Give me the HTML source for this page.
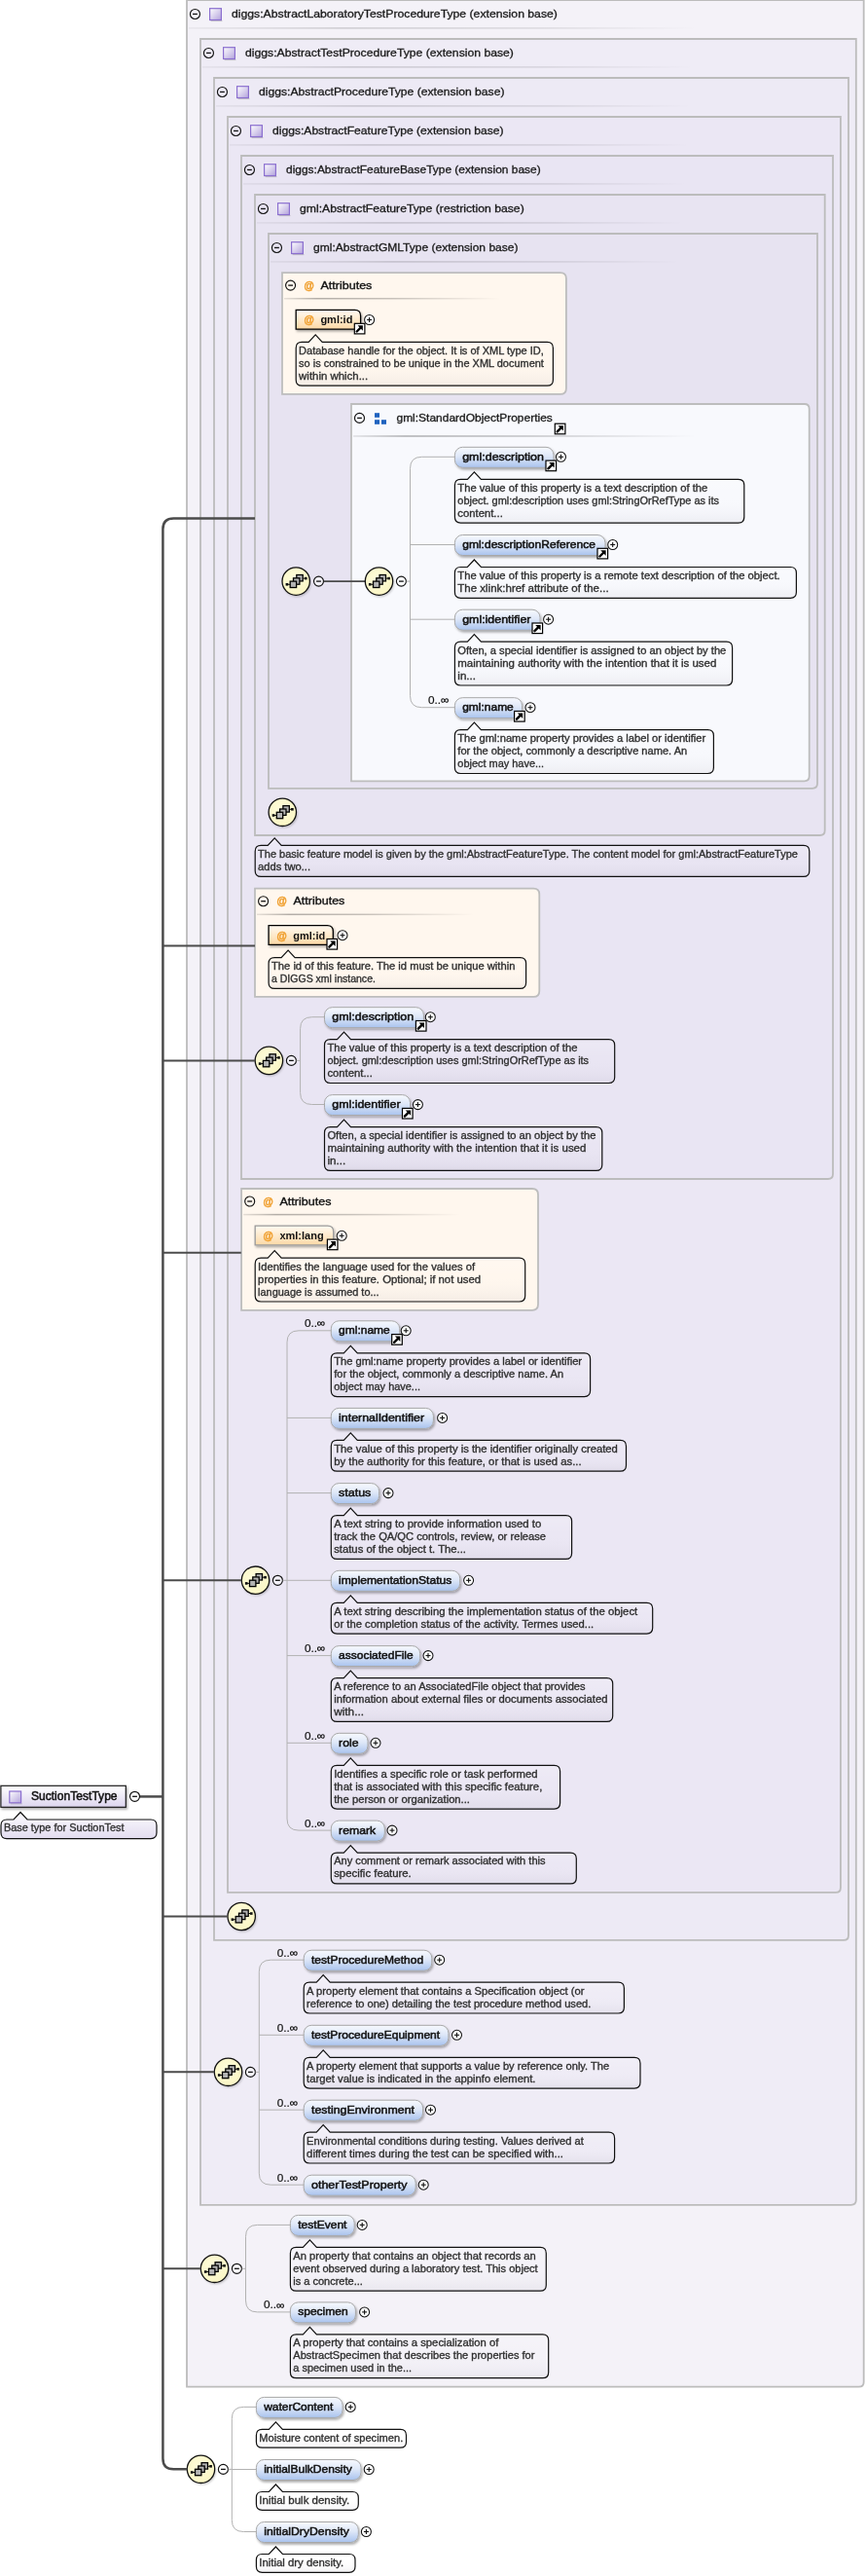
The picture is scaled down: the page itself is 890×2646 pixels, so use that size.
<!DOCTYPE html><html><head><meta charset="utf-8"><title>SuctionTestType</title><style>html,body{margin:0;padding:0;background:#fff;}svg{display:block;}text{font-family:"Liberation Sans", sans-serif;}svg{will-change:transform;}</style></head><body>
<svg width="890" height="2646" viewBox="0 0 890 2646" font-family="&quot;Liberation Sans&quot;, sans-serif">
<defs>
<linearGradient id="gType" x1="0" y1="0" x2="1" y2="0">
 <stop offset="0" stop-color="#e3ddf3" stop-opacity="0.40"/>
 <stop offset="1" stop-color="#e6e1f2" stop-opacity="0.40"/>
</linearGradient>
<linearGradient id="gPurple" x1="0" y1="0" x2="1" y2="1">
 <stop offset="0" stop-color="#ffffff"/>
 <stop offset="1" stop-color="#b3a3dc"/>
</linearGradient>
<linearGradient id="gSep" x1="0" y1="0" x2="1" y2="0">
 <stop offset="0" stop-color="#000" stop-opacity="0.05"/>
 <stop offset="0.3" stop-color="#000" stop-opacity="0.16"/>
 <stop offset="0.7" stop-color="#000" stop-opacity="0.10"/>
 <stop offset="1" stop-color="#000" stop-opacity="0"/>
</linearGradient>
<linearGradient id="gSep2" x1="0" y1="0" x2="1" y2="0">
 <stop offset="0" stop-color="#000" stop-opacity="0.10"/>
 <stop offset="0.15" stop-color="#000" stop-opacity="0.30"/>
 <stop offset="0.5" stop-color="#000" stop-opacity="0.22"/>
 <stop offset="1" stop-color="#000" stop-opacity="0"/>
</linearGradient>
<linearGradient id="gElem" x1="0" y1="0" x2="0" y2="1">
 <stop offset="0" stop-color="#f7f9fe"/>
 <stop offset="0.45" stop-color="#dfe8f8"/>
 <stop offset="1" stop-color="#a9c3ee"/>
</linearGradient>
<linearGradient id="gAttr" x1="0" y1="0" x2="0" y2="1">
 <stop offset="0" stop-color="#fffaf2"/>
 <stop offset="1" stop-color="#fcd9a6"/>
</linearGradient>
<linearGradient id="gNote" x1="0" y1="0" x2="0" y2="1">
 <stop offset="0" stop-color="#ffffff" stop-opacity="0.25"/>
 <stop offset="0.5" stop-color="#ffffff" stop-opacity="0.0"/>
 <stop offset="1" stop-color="#1a1030" stop-opacity="0.05"/>
</linearGradient>
<linearGradient id="gNoteType" x1="0" y1="0" x2="0" y2="1">
 <stop offset="0" stop-color="#fdfcff"/>
 <stop offset="1" stop-color="#e2dcef"/>
</linearGradient>
<linearGradient id="gTypeEl" x1="0" y1="0" x2="0" y2="1">
 <stop offset="0" stop-color="#ffffff"/>
 <stop offset="1" stop-color="#dcd5ee"/>
</linearGradient>
<radialGradient id="gSeq" cx="0.45" cy="0.4" r="0.65">
 <stop offset="0" stop-color="#fefcdc"/>
 <stop offset="1" stop-color="#faf5c2"/>
</radialGradient>
<filter id="shadow" x="-10%" y="-20%" width="125%" height="160%">
 <feDropShadow dx="1.2" dy="1.8" stdDeviation="0.9" flood-color="#000" flood-opacity="0.32"/>
</filter>
<filter id="blur" x="-30%" y="-30%" width="160%" height="160%">
 <feGaussianBlur stdDeviation="1.2"/>
</filter>
</defs>
<path d="M192.0,0.0 H887.7 V2446.7 Q887.7,2451.7 882.7,2451.7 H192.0 Z" fill="#f4f2f8" stroke="#bcbcbc" stroke-width="1.8"/>
<circle cx="200.45" cy="14.45" r="5.0" fill="none" stroke="#111" stroke-width="1.15"/>
<line x1="198.04999999999998" y1="14.45" x2="202.85" y2="14.45" stroke="#111" stroke-width="1.3"/>
<rect x="216.6" y="20.900000000000002" width="11.8" height="1.2" fill="#000" fill-opacity="0.18"/>
<rect x="215.6" y="8.7" width="11.8" height="11.8" fill="url(#gPurple)" stroke="#8b6fcf" stroke-width="1.2"/>
<text x="238.0" y="17.8" font-size="11" stroke="#1a1a1a" stroke-width="0.3" fill="#1a1a1a" textLength="334.90000000000003" lengthAdjust="spacingAndGlyphs">diggs:AbstractLaboratoryTestProcedureType (extension base)</text>
<rect x="194.0" y="28.15" width="523.0" height="1.5" fill="url(#gSep)"/>
<path d="M206.0,40.0 H879.8 V2259.8 Q879.8,2264.8 874.8,2264.8 H206.0 Z" fill="#efecf6" stroke="#bcbcbc" stroke-width="1.8"/>
<circle cx="214.45" cy="54.45" r="5.0" fill="none" stroke="#111" stroke-width="1.15"/>
<line x1="212.04999999999998" y1="54.45" x2="216.85" y2="54.45" stroke="#111" stroke-width="1.3"/>
<rect x="230.6" y="60.9" width="11.8" height="1.2" fill="#000" fill-opacity="0.18"/>
<rect x="229.6" y="48.7" width="11.8" height="11.8" fill="url(#gPurple)" stroke="#8b6fcf" stroke-width="1.2"/>
<text x="252.0" y="57.8" font-size="11" stroke="#1a1a1a" stroke-width="0.3" fill="#1a1a1a" textLength="275.90000000000003" lengthAdjust="spacingAndGlyphs">diggs:AbstractTestProcedureType (extension base)</text>
<rect x="208.0" y="68.15" width="505.5" height="1.5" fill="url(#gSep)"/>
<path d="M220.0,80.0 H872.0 V1987.9 Q872.0,1992.9 867.0,1992.9 H220.0 Z" fill="#edeaf5" stroke="#bcbcbc" stroke-width="1.8"/>
<circle cx="228.45" cy="94.45" r="5.0" fill="none" stroke="#111" stroke-width="1.15"/>
<line x1="226.04999999999998" y1="94.45" x2="230.85" y2="94.45" stroke="#111" stroke-width="1.3"/>
<rect x="244.6" y="100.89999999999999" width="11.8" height="1.2" fill="#000" fill-opacity="0.18"/>
<rect x="243.6" y="88.69999999999999" width="11.8" height="11.8" fill="url(#gPurple)" stroke="#8b6fcf" stroke-width="1.2"/>
<text x="266.0" y="97.8" font-size="11" stroke="#1a1a1a" stroke-width="0.3" fill="#1a1a1a" textLength="252.5" lengthAdjust="spacingAndGlyphs">diggs:AbstractProcedureType (extension base)</text>
<rect x="222.0" y="108.15" width="489.0" height="1.5" fill="url(#gSep)"/>
<path d="M234.0,120.0 H863.9 V1938.9 Q863.9,1943.9 858.9,1943.9 H234.0 Z" fill="#ebe7f4" stroke="#bcbcbc" stroke-width="1.8"/>
<circle cx="242.45" cy="134.45" r="5.0" fill="none" stroke="#111" stroke-width="1.15"/>
<line x1="240.04999999999998" y1="134.45" x2="244.85" y2="134.45" stroke="#111" stroke-width="1.3"/>
<rect x="258.6" y="140.9" width="11.8" height="1.2" fill="#000" fill-opacity="0.18"/>
<rect x="257.6" y="128.7" width="11.8" height="11.8" fill="url(#gPurple)" stroke="#8b6fcf" stroke-width="1.2"/>
<text x="280.0" y="137.8" font-size="11" stroke="#1a1a1a" stroke-width="0.3" fill="#1a1a1a" textLength="237.60000000000002" lengthAdjust="spacingAndGlyphs">diggs:AbstractFeatureType (extension base)</text>
<rect x="236.0" y="148.15" width="473.5" height="1.5" fill="url(#gSep)"/>
<path d="M248.0,160.0 H856.0 V1206.0 Q856.0,1211.0 851.0,1211.0 H248.0 Z" fill="#e9e5f3" stroke="#bcbcbc" stroke-width="1.8"/>
<circle cx="256.45" cy="174.45" r="5.0" fill="none" stroke="#111" stroke-width="1.15"/>
<line x1="254.04999999999998" y1="174.45" x2="258.84999999999997" y2="174.45" stroke="#111" stroke-width="1.3"/>
<rect x="272.6" y="180.9" width="11.8" height="1.2" fill="#000" fill-opacity="0.18"/>
<rect x="271.6" y="168.7" width="11.8" height="11.8" fill="url(#gPurple)" stroke="#8b6fcf" stroke-width="1.2"/>
<text x="294.0" y="177.8" font-size="11" stroke="#1a1a1a" stroke-width="0.3" fill="#1a1a1a" textLength="261.7" lengthAdjust="spacingAndGlyphs">diggs:AbstractFeatureBaseType (extension base)</text>
<rect x="250.0" y="188.15" width="456.0" height="1.5" fill="url(#gSep)"/>
<path d="M262.0,200.0 H847.7 V853.0 Q847.7,858.0 842.7,858.0 H262.0 Z" fill="#e8e4f2" stroke="#bcbcbc" stroke-width="1.8"/>
<circle cx="270.45" cy="214.45" r="5.0" fill="none" stroke="#111" stroke-width="1.15"/>
<line x1="268.05" y1="214.45" x2="272.84999999999997" y2="214.45" stroke="#111" stroke-width="1.3"/>
<rect x="286.6" y="220.9" width="11.8" height="1.2" fill="#000" fill-opacity="0.18"/>
<rect x="285.6" y="208.7" width="11.8" height="11.8" fill="url(#gPurple)" stroke="#8b6fcf" stroke-width="1.2"/>
<text x="308.0" y="217.8" font-size="11" stroke="#1a1a1a" stroke-width="0.3" fill="#1a1a1a" textLength="230.70000000000002" lengthAdjust="spacingAndGlyphs">gml:AbstractFeatureType (restriction base)</text>
<rect x="264.0" y="228.15" width="438.5" height="1.5" fill="url(#gSep)"/>
<path d="M276.0,240.0 H840.0 V804.8 Q840.0,809.8 835.0,809.8 H276.0 Z" fill="#e7e3f1" stroke="#bcbcbc" stroke-width="1.8"/>
<circle cx="284.45" cy="254.45" r="5.0" fill="none" stroke="#111" stroke-width="1.15"/>
<line x1="282.05" y1="254.45" x2="286.84999999999997" y2="254.45" stroke="#111" stroke-width="1.3"/>
<rect x="300.6" y="260.90000000000003" width="11.8" height="1.2" fill="#000" fill-opacity="0.18"/>
<rect x="299.6" y="248.7" width="11.8" height="11.8" fill="url(#gPurple)" stroke="#8b6fcf" stroke-width="1.2"/>
<text x="322.0" y="257.8" font-size="11" stroke="#1a1a1a" stroke-width="0.3" fill="#1a1a1a" textLength="210.5" lengthAdjust="spacingAndGlyphs">gml:AbstractGMLType (extension base)</text>
<rect x="278.0" y="268.15" width="421.0" height="1.5" fill="url(#gSep)"/>
<path d="M290.0,280.1 H575.9 Q581.9,280.1 581.9,286.1 V398.9 Q581.9,404.9 575.9,404.9 H290.0 Z" fill="#fff7ee" stroke="#bdbdbd" stroke-width="1.8"/>
<circle cx="298.6" cy="293.1" r="5.0" fill="none" stroke="#111" stroke-width="1.15"/>
<line x1="296.20000000000005" y1="293.1" x2="301.0" y2="293.1" stroke="#111" stroke-width="1.3"/>
<text x="312.4" y="296.6" font-size="10.5" stroke="#f0a030" stroke-width="0.5" font-weight="bold" fill="#f0a030">@</text>
<text x="329.4" y="296.6" font-size="11.5" stroke="#111" stroke-width="0.35" fill="#111" textLength="53" lengthAdjust="spacingAndGlyphs">Attributes</text>
<rect x="292.0" y="305.95000000000005" width="223.0" height="1.5" fill="url(#gSep2)"/>
<path d="M304.2,318.4 H364.6 Q370.6,318.4 370.6,324.4 V338.09999999999997 H304.2 Z" fill="url(#gAttr)" stroke="#000" stroke-width="1.3" filter="url(#shadow)"/>
<text x="312.5" y="332.4" font-size="10.5" stroke="#f0a030" stroke-width="0.5" font-weight="bold" fill="#f0a030">@</text>
<text x="329.4" y="332.4" font-size="11" font-weight="bold" fill="#111">gml:id</text>
<rect x="364.3" y="332.29999999999995" width="10.6" height="10.6" fill="#fff" stroke="#000" stroke-width="1.2"/>
<path d="M366.7,340.5 L370.70000000000005,336.49999999999994" stroke="#000" stroke-width="2.4" stroke-linecap="round"/>
<path d="M372.90000000000003,334.29999999999995 L372.90000000000003,339.69999999999993 L367.50000000000006,334.29999999999995 Z" fill="#000"/>
<circle cx="379.6" cy="328.5" r="5.0" fill="#fff" stroke="#111" stroke-width="1.05"/>
<line x1="377.1" y1="328.5" x2="382.1" y2="328.5" stroke="#111" stroke-width="1.1"/>
<line x1="379.6" y1="326.0" x2="379.6" y2="331.0" stroke="#111" stroke-width="1.1"/>
<path d="M310.2,351.4 H317.2 L324.2,343.9 L331.2,351.4 H562.4 Q568.4,351.4 568.4,357.4 V390.2 Q568.4,396.2 562.4,396.2 H310.2 Q304.2,396.2 304.2,390.2 V357.4 Q304.2,351.4 310.2,351.4 Z" fill="url(#gNote)" stroke="#111" stroke-width="1.2"/>
<text x="307.09999999999997" y="363.7" font-size="10" stroke="#303030" stroke-width="0.32" fill="#303030" textLength="251.8" lengthAdjust="spacingAndGlyphs">Database handle for the object. It is of XML type ID,</text>
<text x="307.09999999999997" y="376.7" font-size="10" stroke="#303030" stroke-width="0.32" fill="#303030" textLength="251.8" lengthAdjust="spacingAndGlyphs">so is constrained to be unique in the XML document</text>
<text x="307.09999999999997" y="389.7" font-size="10" stroke="#303030" stroke-width="0.32" fill="#303030" textLength="71.1" lengthAdjust="spacingAndGlyphs">within which...</text>
<path d="M361,415 H826.7 Q831.7,415 831.7,420 V797.3 Q831.7,802.3 826.7,802.3 H361 Z" fill="#f8f9fd" stroke="#bdbdbd" stroke-width="1.8"/>
<circle cx="369.5" cy="429.4" r="5.0" fill="none" stroke="#111" stroke-width="1.15"/>
<line x1="367.1" y1="429.4" x2="371.9" y2="429.4" stroke="#111" stroke-width="1.3"/>
<rect x="385" y="424.2" width="5" height="4.6" fill="#1f62bf"/>
<rect x="385" y="431.2" width="5" height="4.6" fill="#1f62bf"/>
<rect x="392" y="431.2" width="5" height="4.6" fill="#1f62bf"/>
<text x="407.5" y="433.2" font-size="11" stroke="#1a1a1a" stroke-width="0.3" fill="#1a1a1a" textLength="160.3" lengthAdjust="spacingAndGlyphs">gml:StandardObjectProperties</text>
<rect x="570.3" y="435.2" width="10.6" height="10.6" fill="#fff" stroke="#000" stroke-width="1.2"/>
<path d="M572.6999999999999,443.40000000000003 L576.6999999999999,439.4" stroke="#000" stroke-width="2.4" stroke-linecap="round"/>
<path d="M578.9,437.2 L578.9,442.59999999999997 L573.5,437.2 Z" fill="#000"/>
<rect x="363" y="447.25" width="352" height="1.5" fill="url(#gSep2)"/>
<circle cx="305.4" cy="598.7" r="14.2" fill="#000" fill-opacity="0.22" filter="url(#blur)"/>
<circle cx="304.2" cy="597.1" r="14.2" fill="url(#gSeq)" stroke="#111" stroke-width="1.3"/>
<line x1="294.7" y1="600.3000000000001" x2="299.2" y2="600.3000000000001" stroke="#111" stroke-width="1"/>
<rect x="293.59999999999997" y="599.0" width="2.6" height="2.6" fill="#111"/>
<line x1="310.2" y1="594.1" x2="314.2" y2="594.1" stroke="#111" stroke-width="1"/>
<rect x="313.0" y="592.8000000000001" width="2.6" height="2.6" fill="#111"/>
<rect x="304.8" y="590.5" width="6.4" height="6.4" fill="#b3b3b3" stroke="#000" stroke-width="1.3"/>
<rect x="301.5" y="593.8000000000001" width="6.4" height="6.4" fill="#b3b3b3" stroke="#000" stroke-width="1.3"/>
<rect x="298.2" y="597.1" width="6.4" height="6.4" fill="#b3b3b3" stroke="#000" stroke-width="1.3"/>
<circle cx="327.5" cy="597.1" r="5.0" fill="#fff" fill-opacity="0.45" stroke="#111" stroke-width="1.15"/>
<line x1="325.1" y1="597.1" x2="329.9" y2="597.1" stroke="#111" stroke-width="1.3"/>
<path d="M332.7,597.1 H375.5" fill="none" stroke="#4b4b4b" stroke-width="1.6"/>
<circle cx="390.7" cy="598.7" r="14.2" fill="#000" fill-opacity="0.22" filter="url(#blur)"/>
<circle cx="389.5" cy="597.1" r="14.2" fill="url(#gSeq)" stroke="#111" stroke-width="1.3"/>
<line x1="380.0" y1="600.3000000000001" x2="384.5" y2="600.3000000000001" stroke="#111" stroke-width="1"/>
<rect x="378.9" y="599.0" width="2.6" height="2.6" fill="#111"/>
<line x1="395.5" y1="594.1" x2="399.5" y2="594.1" stroke="#111" stroke-width="1"/>
<rect x="398.3" y="592.8000000000001" width="2.6" height="2.6" fill="#111"/>
<rect x="390.1" y="590.5" width="6.4" height="6.4" fill="#b3b3b3" stroke="#000" stroke-width="1.3"/>
<rect x="386.8" y="593.8000000000001" width="6.4" height="6.4" fill="#b3b3b3" stroke="#000" stroke-width="1.3"/>
<rect x="383.5" y="597.1" width="6.4" height="6.4" fill="#b3b3b3" stroke="#000" stroke-width="1.3"/>
<circle cx="412.4" cy="597.1" r="5.0" fill="#fff" fill-opacity="0.45" stroke="#111" stroke-width="1.15"/>
<line x1="410.0" y1="597.1" x2="414.79999999999995" y2="597.1" stroke="#111" stroke-width="1.3"/>
<path d="M417.6,597.1 H421.5" fill="none" stroke="#b2b2b2" stroke-width="1"/>
<path d="M467.4,469.3 H433.5 Q421.5,469.3 421.5,481.3 V714.7 Q421.5,726.7 433.5,726.7 H467.4" fill="none" stroke="#b2b2b2" stroke-width="1"/>
<path d="M421.5,559.5 H467.4" fill="none" stroke="#b2b2b2" stroke-width="1"/>
<path d="M421.5,636.2 H467.4" fill="none" stroke="#b2b2b2" stroke-width="1"/>
<rect x="467.4" y="459.3" width="101.60000000000002" height="21" rx="8" ry="8" fill="url(#gElem)" stroke="#a8a8a8" stroke-width="1" filter="url(#shadow)"/>
<text x="475.2" y="472.7" font-size="11.5" stroke="#111" stroke-width="0.5" fill="#111" textLength="83.8" lengthAdjust="spacingAndGlyphs">gml:description</text>
<rect x="561.0" y="473.1" width="10.6" height="10.6" fill="#fff" stroke="#000" stroke-width="1.2"/>
<path d="M563.4,481.30000000000007 L567.4,477.3" stroke="#000" stroke-width="2.4" stroke-linecap="round"/>
<path d="M569.6,475.1 L569.6,480.5 L564.2,475.1 Z" fill="#000"/>
<circle cx="576.5" cy="469.3" r="5.0" fill="#fff" stroke="#111" stroke-width="1.05"/>
<line x1="574.0" y1="469.3" x2="579.0" y2="469.3" stroke="#111" stroke-width="1.1"/>
<line x1="576.5" y1="466.8" x2="576.5" y2="471.8" stroke="#111" stroke-width="1.1"/>
<path d="M473.4,492.3 H480.4 L487.4,484.8 L494.4,492.3 H758.8 Q764.8,492.3 764.8,498.3 V531.0999999999999 Q764.8,537.0999999999999 758.8,537.0999999999999 H473.4 Q467.4,537.0999999999999 467.4,531.0999999999999 V498.3 Q467.4,492.3 473.4,492.3 Z" fill="url(#gNote)" stroke="#111" stroke-width="1.2"/>
<text x="470.29999999999995" y="504.6" font-size="10" stroke="#303030" stroke-width="0.32" fill="#303030" textLength="257.0" lengthAdjust="spacingAndGlyphs">The value of this property is a text description of the</text>
<text x="470.29999999999995" y="517.6" font-size="10" stroke="#303030" stroke-width="0.32" fill="#303030" textLength="268.7" lengthAdjust="spacingAndGlyphs">object. gml:description uses gml:StringOrRefType as its</text>
<text x="470.29999999999995" y="530.6" font-size="10" stroke="#303030" stroke-width="0.32" fill="#303030" textLength="46.5" lengthAdjust="spacingAndGlyphs">content...</text>
<rect x="467.4" y="549.5" width="154.60000000000002" height="21" rx="8" ry="8" fill="url(#gElem)" stroke="#a8a8a8" stroke-width="1" filter="url(#shadow)"/>
<text x="475.2" y="562.9" font-size="11.5" stroke="#111" stroke-width="0.5" fill="#111" textLength="136.70000000000002" lengthAdjust="spacingAndGlyphs">gml:descriptionReference</text>
<rect x="614.0" y="563.3" width="10.6" height="10.6" fill="#fff" stroke="#000" stroke-width="1.2"/>
<path d="M616.4,571.5 L620.4,567.5" stroke="#000" stroke-width="2.4" stroke-linecap="round"/>
<path d="M622.6,565.3 L622.6,570.6999999999999 L617.2,565.3 Z" fill="#000"/>
<circle cx="629.7" cy="559.5" r="5.0" fill="#fff" stroke="#111" stroke-width="1.05"/>
<line x1="627.2" y1="559.5" x2="632.2" y2="559.5" stroke="#111" stroke-width="1.1"/>
<line x1="629.7" y1="557.0" x2="629.7" y2="562.0" stroke="#111" stroke-width="1.1"/>
<path d="M473.4,582.5 H480.4 L487.4,575.0 L494.4,582.5 H812.4 Q818.4,582.5 818.4,588.5 V608.3 Q818.4,614.3 812.4,614.3 H473.4 Q467.4,614.3 467.4,608.3 V588.5 Q467.4,582.5 473.4,582.5 Z" fill="url(#gNote)" stroke="#111" stroke-width="1.2"/>
<text x="470.29999999999995" y="594.8" font-size="10" stroke="#303030" stroke-width="0.32" fill="#303030" textLength="331.4" lengthAdjust="spacingAndGlyphs">The value of this property is a remote text description of the object.</text>
<text x="470.29999999999995" y="607.8" font-size="10" stroke="#303030" stroke-width="0.32" fill="#303030" textLength="155.3" lengthAdjust="spacingAndGlyphs">The xlink:href attribute of the...</text>
<rect x="467.4" y="626.2" width="87.60000000000002" height="21" rx="8" ry="8" fill="url(#gElem)" stroke="#a8a8a8" stroke-width="1" filter="url(#shadow)"/>
<text x="475.2" y="639.6" font-size="11.5" stroke="#111" stroke-width="0.5" fill="#111" textLength="70.3" lengthAdjust="spacingAndGlyphs">gml:identifier</text>
<rect x="547.0" y="640.0" width="10.6" height="10.6" fill="#fff" stroke="#000" stroke-width="1.2"/>
<path d="M549.4,648.2 L553.4,644.2" stroke="#000" stroke-width="2.4" stroke-linecap="round"/>
<path d="M555.6,642.0 L555.6,647.4 L550.2,642.0 Z" fill="#000"/>
<circle cx="563.6" cy="636.2" r="5.0" fill="#fff" stroke="#111" stroke-width="1.05"/>
<line x1="561.1" y1="636.2" x2="566.1" y2="636.2" stroke="#111" stroke-width="1.1"/>
<line x1="563.6" y1="633.7" x2="563.6" y2="638.7" stroke="#111" stroke-width="1.1"/>
<path d="M473.4,659.2 H480.4 L487.4,651.7 L494.4,659.2 H746.6 Q752.6,659.2 752.6,665.2 V698.0 Q752.6,704.0 746.6,704.0 H473.4 Q467.4,704.0 467.4,698.0 V665.2 Q467.4,659.2 473.4,659.2 Z" fill="url(#gNote)" stroke="#111" stroke-width="1.2"/>
<text x="470.29999999999995" y="671.5" font-size="10" stroke="#303030" stroke-width="0.32" fill="#303030" textLength="276.0" lengthAdjust="spacingAndGlyphs">Often, a special identifier is assigned to an object by the</text>
<text x="470.29999999999995" y="684.5" font-size="10" stroke="#303030" stroke-width="0.32" fill="#303030" textLength="266.0" lengthAdjust="spacingAndGlyphs">maintaining authority with the intention that it is used</text>
<text x="470.29999999999995" y="697.5" font-size="10" stroke="#303030" stroke-width="0.32" fill="#303030" textLength="18.8" lengthAdjust="spacingAndGlyphs">in...</text>
<text x="461.5" y="723.3000000000001" font-size="12" font-weight="bold" fill="#111" text-anchor="end">∞</text>
<text x="453.1" y="723.2" font-size="11.8" fill="#111" stroke="#111" stroke-width="0.2" text-anchor="end">0..</text>
<rect x="467.4" y="716.7" width="69.20000000000005" height="21" rx="8" ry="8" fill="url(#gElem)" stroke="#a8a8a8" stroke-width="1" filter="url(#shadow)"/>
<text x="475.2" y="730.1" font-size="11.5" stroke="#111" stroke-width="0.5" fill="#111" textLength="52.599999999999994" lengthAdjust="spacingAndGlyphs">gml:name</text>
<rect x="528.6" y="730.5" width="10.6" height="10.6" fill="#fff" stroke="#000" stroke-width="1.2"/>
<path d="M531.0,738.7 L535.0,734.7" stroke="#000" stroke-width="2.4" stroke-linecap="round"/>
<path d="M537.2,732.5 L537.2,737.9 L531.8000000000001,732.5 Z" fill="#000"/>
<circle cx="545.0" cy="726.7" r="5.0" fill="#fff" stroke="#111" stroke-width="1.05"/>
<line x1="542.5" y1="726.7" x2="547.5" y2="726.7" stroke="#111" stroke-width="1.1"/>
<line x1="545.0" y1="724.2" x2="545.0" y2="729.2" stroke="#111" stroke-width="1.1"/>
<path d="M473.4,749.7 H480.4 L487.4,742.2 L494.4,749.7 H727.4 Q733.4,749.7 733.4,755.7 V788.5 Q733.4,794.5 727.4,794.5 H473.4 Q467.4,794.5 467.4,788.5 V755.7 Q467.4,749.7 473.4,749.7 Z" fill="url(#gNote)" stroke="#111" stroke-width="1.2"/>
<text x="470.29999999999995" y="762.0" font-size="10" stroke="#303030" stroke-width="0.32" fill="#303030" textLength="254.9" lengthAdjust="spacingAndGlyphs">The gml:name property provides a label or identifier</text>
<text x="470.29999999999995" y="775.0" font-size="10" stroke="#303030" stroke-width="0.32" fill="#303030" textLength="235.9" lengthAdjust="spacingAndGlyphs">for the object, commonly a descriptive name. An</text>
<text x="470.29999999999995" y="788.0" font-size="10" stroke="#303030" stroke-width="0.32" fill="#303030" textLength="88.8" lengthAdjust="spacingAndGlyphs">object may have...</text>
<circle cx="291.5" cy="835.9" r="14.2" fill="#000" fill-opacity="0.22" filter="url(#blur)"/>
<circle cx="290.3" cy="834.3" r="14.2" fill="url(#gSeq)" stroke="#111" stroke-width="1.3"/>
<line x1="280.8" y1="837.5" x2="285.3" y2="837.5" stroke="#111" stroke-width="1"/>
<rect x="279.7" y="836.1999999999999" width="2.6" height="2.6" fill="#111"/>
<line x1="296.3" y1="831.3" x2="300.3" y2="831.3" stroke="#111" stroke-width="1"/>
<rect x="299.1" y="830.0" width="2.6" height="2.6" fill="#111"/>
<rect x="290.90000000000003" y="827.6999999999999" width="6.4" height="6.4" fill="#b3b3b3" stroke="#000" stroke-width="1.3"/>
<rect x="287.6" y="831.0" width="6.4" height="6.4" fill="#b3b3b3" stroke="#000" stroke-width="1.3"/>
<rect x="284.3" y="834.3" width="6.4" height="6.4" fill="#b3b3b3" stroke="#000" stroke-width="1.3"/>
<path d="M268.2,868.4 H275.2 L282.2,860.9 L289.2,868.4 H825.8 Q831.8,868.4 831.8,874.4 V894.4 Q831.8,900.4 825.8,900.4 H268.2 Q262.2,900.4 262.2,894.4 V874.4 Q262.2,868.4 268.2,868.4 Z" fill="url(#gNote)" stroke="#111" stroke-width="1.2"/>
<text x="265.09999999999997" y="880.6999999999999" font-size="10" stroke="#303030" stroke-width="0.32" fill="#303030" textLength="554.8" lengthAdjust="spacingAndGlyphs">The basic feature model is given by the gml:AbstractFeatureType. The content model for gml:AbstractFeatureType</text>
<text x="265.09999999999997" y="893.6999999999999" font-size="10" stroke="#303030" stroke-width="0.32" fill="#303030" textLength="53.9" lengthAdjust="spacingAndGlyphs">adds two...</text>
<path d="M262.0,912.7 H548.3 Q554.3,912.7 554.3,918.7 V1017.9 Q554.3,1023.9 548.3,1023.9 H262.0 Z" fill="#fff7ee" stroke="#bdbdbd" stroke-width="1.8"/>
<circle cx="270.6" cy="925.7" r="5.0" fill="none" stroke="#111" stroke-width="1.15"/>
<line x1="268.20000000000005" y1="925.7" x2="273.0" y2="925.7" stroke="#111" stroke-width="1.3"/>
<text x="284.4" y="929.2" font-size="10.5" stroke="#f0a030" stroke-width="0.5" font-weight="bold" fill="#f0a030">@</text>
<text x="301.4" y="929.2" font-size="11.5" stroke="#111" stroke-width="0.35" fill="#111" textLength="53" lengthAdjust="spacingAndGlyphs">Attributes</text>
<rect x="264.0" y="938.5500000000001" width="223.0" height="1.5" fill="url(#gSep2)"/>
<path d="M276.1,950.6 H336.3 Q342.3,950.6 342.3,956.6 V970.3000000000001 H276.1 Z" fill="url(#gAttr)" stroke="#000" stroke-width="1.3" filter="url(#shadow)"/>
<text x="284.40000000000003" y="964.6" font-size="10.5" stroke="#f0a030" stroke-width="0.5" font-weight="bold" fill="#f0a030">@</text>
<text x="301.3" y="964.6" font-size="11" font-weight="bold" fill="#111">gml:id</text>
<rect x="336.0" y="964.5" width="10.6" height="10.6" fill="#fff" stroke="#000" stroke-width="1.2"/>
<path d="M338.4,972.7 L342.40000000000003,968.7" stroke="#000" stroke-width="2.4" stroke-linecap="round"/>
<path d="M344.6,966.5 L344.6,971.9 L339.20000000000005,966.5 Z" fill="#000"/>
<circle cx="352.0" cy="960.7" r="5.0" fill="#fff" stroke="#111" stroke-width="1.05"/>
<line x1="349.5" y1="960.7" x2="354.5" y2="960.7" stroke="#111" stroke-width="1.1"/>
<line x1="352.0" y1="958.2" x2="352.0" y2="963.2" stroke="#111" stroke-width="1.1"/>
<path d="M282.1,983.6 H289.1 L296.1,976.1 L303.1,983.6 H534.6 Q540.6,983.6 540.6,989.6 V1009.4 Q540.6,1015.4 534.6,1015.4 H282.1 Q276.1,1015.4 276.1,1009.4 V989.6 Q276.1,983.6 282.1,983.6 Z" fill="url(#gNote)" stroke="#111" stroke-width="1.2"/>
<text x="279.0" y="995.9" font-size="10" stroke="#303030" stroke-width="0.32" fill="#303030" textLength="250.4" lengthAdjust="spacingAndGlyphs">The id of this feature. The id must be unique within</text>
<text x="279.0" y="1008.9" font-size="10" stroke="#303030" stroke-width="0.32" fill="#303030" textLength="106.9" lengthAdjust="spacingAndGlyphs">a DIGGS xml instance.</text>
<circle cx="277.59999999999997" cy="1091.0" r="14.2" fill="#000" fill-opacity="0.22" filter="url(#blur)"/>
<circle cx="276.4" cy="1089.4" r="14.2" fill="url(#gSeq)" stroke="#111" stroke-width="1.3"/>
<line x1="266.9" y1="1092.6000000000001" x2="271.4" y2="1092.6000000000001" stroke="#111" stroke-width="1"/>
<rect x="265.79999999999995" y="1091.3000000000002" width="2.6" height="2.6" fill="#111"/>
<line x1="282.4" y1="1086.4" x2="286.4" y2="1086.4" stroke="#111" stroke-width="1"/>
<rect x="285.2" y="1085.1000000000001" width="2.6" height="2.6" fill="#111"/>
<rect x="277.0" y="1082.8000000000002" width="6.4" height="6.4" fill="#b3b3b3" stroke="#000" stroke-width="1.3"/>
<rect x="273.7" y="1086.1000000000001" width="6.4" height="6.4" fill="#b3b3b3" stroke="#000" stroke-width="1.3"/>
<rect x="270.4" y="1089.4" width="6.4" height="6.4" fill="#b3b3b3" stroke="#000" stroke-width="1.3"/>
<circle cx="299.4" cy="1089.4" r="5.0" fill="#fff" fill-opacity="0.45" stroke="#111" stroke-width="1.15"/>
<line x1="297.0" y1="1089.4" x2="301.79999999999995" y2="1089.4" stroke="#111" stroke-width="1.3"/>
<path d="M304.6,1089.4 H308.6" fill="none" stroke="#b2b2b2" stroke-width="1"/>
<path d="M333.5,1044.7 H320.6 Q308.6,1044.7 308.6,1056.7 V1122.5 Q308.6,1134.5 320.6,1134.5 H333.5" fill="none" stroke="#b2b2b2" stroke-width="1"/>
<rect x="333.5" y="1034.7" width="101.89999999999998" height="21" rx="8" ry="8" fill="url(#gElem)" stroke="#a8a8a8" stroke-width="1" filter="url(#shadow)"/>
<text x="341.3" y="1048.1000000000001" font-size="11.5" stroke="#111" stroke-width="0.5" fill="#111" textLength="83.8" lengthAdjust="spacingAndGlyphs">gml:description</text>
<rect x="427.4" y="1048.5" width="10.6" height="10.6" fill="#fff" stroke="#000" stroke-width="1.2"/>
<path d="M429.79999999999995,1056.6999999999998 L433.8,1052.7" stroke="#000" stroke-width="2.4" stroke-linecap="round"/>
<path d="M436.0,1050.5 L436.0,1055.9 L430.6,1050.5 Z" fill="#000"/>
<circle cx="442.3" cy="1044.7" r="5.0" fill="#fff" stroke="#111" stroke-width="1.05"/>
<line x1="439.8" y1="1044.7" x2="444.8" y2="1044.7" stroke="#111" stroke-width="1.1"/>
<line x1="442.3" y1="1042.2" x2="442.3" y2="1047.2" stroke="#111" stroke-width="1.1"/>
<path d="M339.5,1067.7 H346.5 L353.5,1060.2 L360.5,1067.7 H625.7 Q631.7,1067.7 631.7,1073.7 V1106.5 Q631.7,1112.5 625.7,1112.5 H339.5 Q333.5,1112.5 333.5,1106.5 V1073.7 Q333.5,1067.7 339.5,1067.7 Z" fill="url(#gNote)" stroke="#111" stroke-width="1.2"/>
<text x="336.4" y="1080.0" font-size="10" stroke="#303030" stroke-width="0.32" fill="#303030" textLength="257.0" lengthAdjust="spacingAndGlyphs">The value of this property is a text description of the</text>
<text x="336.4" y="1093.0" font-size="10" stroke="#303030" stroke-width="0.32" fill="#303030" textLength="268.7" lengthAdjust="spacingAndGlyphs">object. gml:description uses gml:StringOrRefType as its</text>
<text x="336.4" y="1106.0" font-size="10" stroke="#303030" stroke-width="0.32" fill="#303030" textLength="46.5" lengthAdjust="spacingAndGlyphs">content...</text>
<rect x="333.5" y="1124.6" width="88.0" height="21" rx="8" ry="8" fill="url(#gElem)" stroke="#a8a8a8" stroke-width="1" filter="url(#shadow)"/>
<text x="341.3" y="1138.0" font-size="11.5" stroke="#111" stroke-width="0.5" fill="#111" textLength="70.3" lengthAdjust="spacingAndGlyphs">gml:identifier</text>
<rect x="413.5" y="1138.3999999999999" width="10.6" height="10.6" fill="#fff" stroke="#000" stroke-width="1.2"/>
<path d="M415.9,1146.5999999999997 L419.90000000000003,1142.6" stroke="#000" stroke-width="2.4" stroke-linecap="round"/>
<path d="M422.1,1140.3999999999999 L422.1,1145.8 L416.70000000000005,1140.3999999999999 Z" fill="#000"/>
<circle cx="429.4" cy="1134.6" r="5.0" fill="#fff" stroke="#111" stroke-width="1.05"/>
<line x1="426.9" y1="1134.6" x2="431.9" y2="1134.6" stroke="#111" stroke-width="1.1"/>
<line x1="429.4" y1="1132.1" x2="429.4" y2="1137.1" stroke="#111" stroke-width="1.1"/>
<path d="M339.5,1157.6 H346.5 L353.5,1150.1 L360.5,1157.6 H612.8 Q618.8,1157.6 618.8,1163.6 V1196.3999999999999 Q618.8,1202.3999999999999 612.8,1202.3999999999999 H339.5 Q333.5,1202.3999999999999 333.5,1196.3999999999999 V1163.6 Q333.5,1157.6 339.5,1157.6 Z" fill="url(#gNote)" stroke="#111" stroke-width="1.2"/>
<text x="336.4" y="1169.8999999999999" font-size="10" stroke="#303030" stroke-width="0.32" fill="#303030" textLength="276.0" lengthAdjust="spacingAndGlyphs">Often, a special identifier is assigned to an object by the</text>
<text x="336.4" y="1182.8999999999999" font-size="10" stroke="#303030" stroke-width="0.32" fill="#303030" textLength="266.0" lengthAdjust="spacingAndGlyphs">maintaining authority with the intention that it is used</text>
<text x="336.4" y="1195.8999999999999" font-size="10" stroke="#303030" stroke-width="0.32" fill="#303030" textLength="18.8" lengthAdjust="spacingAndGlyphs">in...</text>
<path d="M248.1,1221.0 H547.0 Q553.0,1221.0 553.0,1227.0 V1339.8 Q553.0,1345.8 547.0,1345.8 H248.1 Z" fill="#fff7ee" stroke="#bdbdbd" stroke-width="1.8"/>
<circle cx="256.7" cy="1234.0" r="5.0" fill="none" stroke="#111" stroke-width="1.15"/>
<line x1="254.29999999999998" y1="1234.0" x2="259.09999999999997" y2="1234.0" stroke="#111" stroke-width="1.3"/>
<text x="270.5" y="1237.5" font-size="10.5" stroke="#f0a030" stroke-width="0.5" font-weight="bold" fill="#f0a030">@</text>
<text x="287.5" y="1237.5" font-size="11.5" stroke="#111" stroke-width="0.35" fill="#111" textLength="53" lengthAdjust="spacingAndGlyphs">Attributes</text>
<rect x="250.1" y="1246.85" width="223.00000000000003" height="1.5" fill="url(#gSep2)"/>
<path d="M262.2,1259.2 H336.7 Q342.7,1259.2 342.7,1265.2 V1278.9 H262.2 Z" fill="url(#gAttr)" stroke="#9a9a9a" stroke-width="1.3" filter="url(#shadow)"/>
<text x="270.5" y="1273.2" font-size="10.5" stroke="#f0a030" stroke-width="0.5" font-weight="bold" fill="#f0a030">@</text>
<text x="287.4" y="1273.2" font-size="11" font-weight="bold" fill="#111">xml:lang</text>
<rect x="336.4" y="1273.1000000000001" width="10.6" height="10.6" fill="#fff" stroke="#000" stroke-width="1.2"/>
<path d="M338.79999999999995,1281.3 L342.8,1277.3000000000002" stroke="#000" stroke-width="2.4" stroke-linecap="round"/>
<path d="M345.0,1275.1000000000001 L345.0,1280.5000000000002 L339.6,1275.1000000000001 Z" fill="#000"/>
<circle cx="351.2" cy="1269.3" r="5.0" fill="#fff" stroke="#111" stroke-width="1.05"/>
<line x1="348.7" y1="1269.3" x2="353.7" y2="1269.3" stroke="#111" stroke-width="1.1"/>
<line x1="351.2" y1="1266.8" x2="351.2" y2="1271.8" stroke="#111" stroke-width="1.1"/>
<path d="M268.2,1292.2 H275.2 L282.2,1284.7 L289.2,1292.2 H533.7 Q539.7,1292.2 539.7,1298.2 V1331.0 Q539.7,1337.0 533.7,1337.0 H268.2 Q262.2,1337.0 262.2,1331.0 V1298.2 Q262.2,1292.2 268.2,1292.2 Z" fill="url(#gNote)" stroke="#111" stroke-width="1.2"/>
<text x="265.09999999999997" y="1304.5" font-size="10" stroke="#303030" stroke-width="0.32" fill="#303030" textLength="222.9" lengthAdjust="spacingAndGlyphs">Identifies the language used for the values of</text>
<text x="265.09999999999997" y="1317.5" font-size="10" stroke="#303030" stroke-width="0.32" fill="#303030" textLength="229.0" lengthAdjust="spacingAndGlyphs">properties in this feature. Optional; if not used</text>
<text x="265.09999999999997" y="1330.5" font-size="10" stroke="#303030" stroke-width="0.32" fill="#303030" textLength="124.5" lengthAdjust="spacingAndGlyphs">language is assumed to...</text>
<circle cx="263.7" cy="1624.8" r="14.2" fill="#000" fill-opacity="0.22" filter="url(#blur)"/>
<circle cx="262.5" cy="1623.2" r="14.2" fill="url(#gSeq)" stroke="#111" stroke-width="1.3"/>
<line x1="253.0" y1="1626.4" x2="257.5" y2="1626.4" stroke="#111" stroke-width="1"/>
<rect x="251.9" y="1625.1000000000001" width="2.6" height="2.6" fill="#111"/>
<line x1="268.5" y1="1620.2" x2="272.5" y2="1620.2" stroke="#111" stroke-width="1"/>
<rect x="271.3" y="1618.9" width="2.6" height="2.6" fill="#111"/>
<rect x="263.1" y="1616.6000000000001" width="6.4" height="6.4" fill="#b3b3b3" stroke="#000" stroke-width="1.3"/>
<rect x="259.8" y="1619.9" width="6.4" height="6.4" fill="#b3b3b3" stroke="#000" stroke-width="1.3"/>
<rect x="256.5" y="1623.2" width="6.4" height="6.4" fill="#b3b3b3" stroke="#000" stroke-width="1.3"/>
<circle cx="285.4" cy="1623.3" r="5.0" fill="#fff" fill-opacity="0.45" stroke="#111" stroke-width="1.15"/>
<line x1="283.0" y1="1623.3" x2="287.79999999999995" y2="1623.3" stroke="#111" stroke-width="1.3"/>
<path d="M290.6,1623.3 H295.0" fill="none" stroke="#b2b2b2" stroke-width="1"/>
<path d="M340.3,1366.8 H307.0 Q295.0,1366.8 295.0,1378.8 V1868.1 Q295.0,1880.1 307.0,1880.1 H340.3" fill="none" stroke="#b2b2b2" stroke-width="1"/>
<path d="M295.0,1456.4 H340.3" fill="none" stroke="#b2b2b2" stroke-width="1"/>
<path d="M295.0,1533.6 H340.3" fill="none" stroke="#b2b2b2" stroke-width="1"/>
<path d="M295.0,1623.3 H340.3" fill="none" stroke="#b2b2b2" stroke-width="1"/>
<path d="M295.0,1700.6 H340.3" fill="none" stroke="#b2b2b2" stroke-width="1"/>
<path d="M295.0,1790.3 H340.3" fill="none" stroke="#b2b2b2" stroke-width="1"/>
<text x="334.40000000000003" y="1363.3999999999999" font-size="12" font-weight="bold" fill="#111" text-anchor="end">∞</text>
<text x="326.00000000000006" y="1363.3" font-size="11.8" fill="#111" stroke="#111" stroke-width="0.2" text-anchor="end">0..</text>
<rect x="340.3" y="1356.8" width="70.39999999999998" height="21" rx="8" ry="8" fill="url(#gElem)" stroke="#a8a8a8" stroke-width="1" filter="url(#shadow)"/>
<text x="348.1" y="1370.2" font-size="11.5" stroke="#111" stroke-width="0.5" fill="#111" textLength="52.599999999999994" lengthAdjust="spacingAndGlyphs">gml:name</text>
<rect x="402.7" y="1370.6" width="10.6" height="10.6" fill="#fff" stroke="#000" stroke-width="1.2"/>
<path d="M405.09999999999997,1378.7999999999997 L409.1,1374.8" stroke="#000" stroke-width="2.4" stroke-linecap="round"/>
<path d="M411.3,1372.6 L411.3,1378.0 L405.90000000000003,1372.6 Z" fill="#000"/>
<circle cx="417.2" cy="1366.8" r="5.0" fill="#fff" stroke="#111" stroke-width="1.05"/>
<line x1="414.7" y1="1366.8" x2="419.7" y2="1366.8" stroke="#111" stroke-width="1.1"/>
<line x1="417.2" y1="1364.3" x2="417.2" y2="1369.3" stroke="#111" stroke-width="1.1"/>
<path d="M346.3,1389.8 H353.3 L360.3,1382.3 L367.3,1389.8 H600.6 Q606.6,1389.8 606.6,1395.8 V1428.6 Q606.6,1434.6 600.6,1434.6 H346.3 Q340.3,1434.6 340.3,1428.6 V1395.8 Q340.3,1389.8 346.3,1389.8 Z" fill="url(#gNote)" stroke="#111" stroke-width="1.2"/>
<text x="343.2" y="1402.1" font-size="10" stroke="#303030" stroke-width="0.32" fill="#303030" textLength="254.9" lengthAdjust="spacingAndGlyphs">The gml:name property provides a label or identifier</text>
<text x="343.2" y="1415.1" font-size="10" stroke="#303030" stroke-width="0.32" fill="#303030" textLength="235.9" lengthAdjust="spacingAndGlyphs">for the object, commonly a descriptive name. An</text>
<text x="343.2" y="1428.1" font-size="10" stroke="#303030" stroke-width="0.32" fill="#303030" textLength="88.8" lengthAdjust="spacingAndGlyphs">object may have...</text>
<rect x="340.3" y="1446.4" width="105.09999999999997" height="21" rx="8" ry="8" fill="url(#gElem)" stroke="#a8a8a8" stroke-width="1" filter="url(#shadow)"/>
<text x="348.1" y="1459.8000000000002" font-size="11.5" stroke="#111" stroke-width="0.5" fill="#111" textLength="88.0" lengthAdjust="spacingAndGlyphs">internalIdentifier</text>
<circle cx="454.6" cy="1456.4" r="5.0" fill="#fff" stroke="#111" stroke-width="1.05"/>
<line x1="452.1" y1="1456.4" x2="457.1" y2="1456.4" stroke="#111" stroke-width="1.1"/>
<line x1="454.6" y1="1453.9" x2="454.6" y2="1458.9" stroke="#111" stroke-width="1.1"/>
<path d="M346.3,1479.4 H353.3 L360.3,1471.9 L367.3,1479.4 H637.5 Q643.5,1479.4 643.5,1485.4 V1505.2 Q643.5,1511.2 637.5,1511.2 H346.3 Q340.3,1511.2 340.3,1505.2 V1485.4 Q340.3,1479.4 346.3,1479.4 Z" fill="url(#gNote)" stroke="#111" stroke-width="1.2"/>
<text x="343.2" y="1491.7" font-size="10" stroke="#303030" stroke-width="0.32" fill="#303030" textLength="291.7" lengthAdjust="spacingAndGlyphs">The value of this property is the identifier originally created</text>
<text x="343.2" y="1504.7" font-size="10" stroke="#303030" stroke-width="0.32" fill="#303030" textLength="254.4" lengthAdjust="spacingAndGlyphs">by the authority for this feature, or that is used as...</text>
<rect x="340.3" y="1523.6" width="49.30000000000001" height="21" rx="8" ry="8" fill="url(#gElem)" stroke="#a8a8a8" stroke-width="1" filter="url(#shadow)"/>
<text x="348.1" y="1537.0" font-size="11.5" stroke="#111" stroke-width="0.5" fill="#111" textLength="33.199999999999996" lengthAdjust="spacingAndGlyphs">status</text>
<circle cx="399.0" cy="1533.6" r="5.0" fill="#fff" stroke="#111" stroke-width="1.05"/>
<line x1="396.5" y1="1533.6" x2="401.5" y2="1533.6" stroke="#111" stroke-width="1.1"/>
<line x1="399.0" y1="1531.1" x2="399.0" y2="1536.1" stroke="#111" stroke-width="1.1"/>
<path d="M346.3,1556.6 H353.3 L360.3,1549.1 L367.3,1556.6 H581.6 Q587.6,1556.6 587.6,1562.6 V1595.3999999999999 Q587.6,1601.3999999999999 581.6,1601.3999999999999 H346.3 Q340.3,1601.3999999999999 340.3,1595.3999999999999 V1562.6 Q340.3,1556.6 346.3,1556.6 Z" fill="url(#gNote)" stroke="#111" stroke-width="1.2"/>
<text x="343.2" y="1568.8999999999999" font-size="10" stroke="#303030" stroke-width="0.32" fill="#303030" textLength="213.2" lengthAdjust="spacingAndGlyphs">A text string to provide information used to</text>
<text x="343.2" y="1581.8999999999999" font-size="10" stroke="#303030" stroke-width="0.32" fill="#303030" textLength="217.9" lengthAdjust="spacingAndGlyphs">track the QA/QC controls, review, or release</text>
<text x="343.2" y="1594.8999999999999" font-size="10" stroke="#303030" stroke-width="0.32" fill="#303030" textLength="135.8" lengthAdjust="spacingAndGlyphs">status of the object t. The...</text>
<rect x="340.3" y="1613.3" width="132.39999999999998" height="21" rx="8" ry="8" fill="url(#gElem)" stroke="#a8a8a8" stroke-width="1" filter="url(#shadow)"/>
<text x="348.1" y="1626.7" font-size="11.5" stroke="#111" stroke-width="0.5" fill="#111" textLength="116.2" lengthAdjust="spacingAndGlyphs">implementationStatus</text>
<circle cx="481.6" cy="1623.3" r="5.0" fill="#fff" stroke="#111" stroke-width="1.05"/>
<line x1="479.1" y1="1623.3" x2="484.1" y2="1623.3" stroke="#111" stroke-width="1.1"/>
<line x1="481.6" y1="1620.8" x2="481.6" y2="1625.8" stroke="#111" stroke-width="1.1"/>
<path d="M346.3,1646.3 H353.3 L360.3,1638.8 L367.3,1646.3 H664.7 Q670.7,1646.3 670.7,1652.3 V1672.1 Q670.7,1678.1 664.7,1678.1 H346.3 Q340.3,1678.1 340.3,1672.1 V1652.3 Q340.3,1646.3 346.3,1646.3 Z" fill="url(#gNote)" stroke="#111" stroke-width="1.2"/>
<text x="343.2" y="1658.6" font-size="10" stroke="#303030" stroke-width="0.32" fill="#303030" textLength="312.1" lengthAdjust="spacingAndGlyphs">A text string describing the implementation status of the object</text>
<text x="343.2" y="1671.6" font-size="10" stroke="#303030" stroke-width="0.32" fill="#303030" textLength="267.0" lengthAdjust="spacingAndGlyphs">or the completion status of the activity. Termes used...</text>
<text x="334.40000000000003" y="1697.1999999999998" font-size="12" font-weight="bold" fill="#111" text-anchor="end">∞</text>
<text x="326.00000000000006" y="1697.1" font-size="11.8" fill="#111" stroke="#111" stroke-width="0.2" text-anchor="end">0..</text>
<rect x="340.3" y="1690.6" width="91.39999999999998" height="21" rx="8" ry="8" fill="url(#gElem)" stroke="#a8a8a8" stroke-width="1" filter="url(#shadow)"/>
<text x="348.1" y="1704.0" font-size="11.5" stroke="#111" stroke-width="0.5" fill="#111" textLength="76.6" lengthAdjust="spacingAndGlyphs">associatedFile</text>
<circle cx="440.0" cy="1700.6" r="5.0" fill="#fff" stroke="#111" stroke-width="1.05"/>
<line x1="437.5" y1="1700.6" x2="442.5" y2="1700.6" stroke="#111" stroke-width="1.1"/>
<line x1="440.0" y1="1698.1" x2="440.0" y2="1703.1" stroke="#111" stroke-width="1.1"/>
<path d="M346.3,1723.6 H353.3 L360.3,1716.1 L367.3,1723.6 H623.7 Q629.7,1723.6 629.7,1729.6 V1762.3999999999999 Q629.7,1768.3999999999999 623.7,1768.3999999999999 H346.3 Q340.3,1768.3999999999999 340.3,1762.3999999999999 V1729.6 Q340.3,1723.6 346.3,1723.6 Z" fill="url(#gNote)" stroke="#111" stroke-width="1.2"/>
<text x="343.2" y="1735.8999999999999" font-size="10" stroke="#303030" stroke-width="0.32" fill="#303030" textLength="258.4" lengthAdjust="spacingAndGlyphs">A reference to an AssociatedFile object that provides</text>
<text x="343.2" y="1748.8999999999999" font-size="10" stroke="#303030" stroke-width="0.32" fill="#303030" textLength="281.3" lengthAdjust="spacingAndGlyphs">information about external files or documents associated</text>
<text x="343.2" y="1761.8999999999999" font-size="10" stroke="#303030" stroke-width="0.32" fill="#303030" textLength="30.8" lengthAdjust="spacingAndGlyphs">with...</text>
<text x="334.40000000000003" y="1786.8999999999999" font-size="12" font-weight="bold" fill="#111" text-anchor="end">∞</text>
<text x="326.00000000000006" y="1786.8" font-size="11.8" fill="#111" stroke="#111" stroke-width="0.2" text-anchor="end">0..</text>
<rect x="340.3" y="1780.3" width="37.69999999999999" height="21" rx="8" ry="8" fill="url(#gElem)" stroke="#a8a8a8" stroke-width="1" filter="url(#shadow)"/>
<text x="348.1" y="1793.7" font-size="11.5" stroke="#111" stroke-width="0.5" fill="#111" textLength="20.400000000000002" lengthAdjust="spacingAndGlyphs">role</text>
<circle cx="386.0" cy="1790.3" r="5.0" fill="#fff" stroke="#111" stroke-width="1.05"/>
<line x1="383.5" y1="1790.3" x2="388.5" y2="1790.3" stroke="#111" stroke-width="1.1"/>
<line x1="386.0" y1="1787.8" x2="386.0" y2="1792.8" stroke="#111" stroke-width="1.1"/>
<path d="M346.3,1813.3 H353.3 L360.3,1805.8 L367.3,1813.3 H569.6 Q575.6,1813.3 575.6,1819.3 V1852.1 Q575.6,1858.1 569.6,1858.1 H346.3 Q340.3,1858.1 340.3,1852.1 V1819.3 Q340.3,1813.3 346.3,1813.3 Z" fill="url(#gNote)" stroke="#111" stroke-width="1.2"/>
<text x="343.2" y="1825.6" font-size="10" stroke="#303030" stroke-width="0.32" fill="#303030" textLength="209.3" lengthAdjust="spacingAndGlyphs">Identifies a specific role or task performed</text>
<text x="343.2" y="1838.6" font-size="10" stroke="#303030" stroke-width="0.32" fill="#303030" textLength="214.1" lengthAdjust="spacingAndGlyphs">that is associated with this specific feature,</text>
<text x="343.2" y="1851.6" font-size="10" stroke="#303030" stroke-width="0.32" fill="#303030" textLength="139.8" lengthAdjust="spacingAndGlyphs">the person or organization...</text>
<text x="334.40000000000003" y="1876.6999999999998" font-size="12" font-weight="bold" fill="#111" text-anchor="end">∞</text>
<text x="326.00000000000006" y="1876.6" font-size="11.8" fill="#111" stroke="#111" stroke-width="0.2" text-anchor="end">0..</text>
<rect x="340.3" y="1870.1" width="55.0" height="21" rx="8" ry="8" fill="url(#gElem)" stroke="#a8a8a8" stroke-width="1" filter="url(#shadow)"/>
<text x="348.1" y="1883.5" font-size="11.5" stroke="#111" stroke-width="0.5" fill="#111" textLength="38.099999999999994" lengthAdjust="spacingAndGlyphs">remark</text>
<circle cx="403.0" cy="1880.1" r="5.0" fill="#fff" stroke="#111" stroke-width="1.05"/>
<line x1="400.5" y1="1880.1" x2="405.5" y2="1880.1" stroke="#111" stroke-width="1.1"/>
<line x1="403.0" y1="1877.6" x2="403.0" y2="1882.6" stroke="#111" stroke-width="1.1"/>
<path d="M346.3,1903.1 H353.3 L360.3,1895.6 L367.3,1903.1 H586.3 Q592.3,1903.1 592.3,1909.1 V1928.8999999999999 Q592.3,1934.8999999999999 586.3,1934.8999999999999 H346.3 Q340.3,1934.8999999999999 340.3,1928.8999999999999 V1909.1 Q340.3,1903.1 346.3,1903.1 Z" fill="url(#gNote)" stroke="#111" stroke-width="1.2"/>
<text x="343.2" y="1915.3999999999999" font-size="10" stroke="#303030" stroke-width="0.32" fill="#303030" textLength="217.4" lengthAdjust="spacingAndGlyphs">Any comment or remark associated with this</text>
<text x="343.2" y="1928.3999999999999" font-size="10" stroke="#303030" stroke-width="0.32" fill="#303030" textLength="79.6" lengthAdjust="spacingAndGlyphs">specific feature.</text>
<circle cx="249.39999999999998" cy="1970.1" r="14.2" fill="#000" fill-opacity="0.22" filter="url(#blur)"/>
<circle cx="248.2" cy="1968.5" r="14.2" fill="url(#gSeq)" stroke="#111" stroke-width="1.3"/>
<line x1="238.7" y1="1971.7" x2="243.2" y2="1971.7" stroke="#111" stroke-width="1"/>
<rect x="237.6" y="1970.4" width="2.6" height="2.6" fill="#111"/>
<line x1="254.2" y1="1965.5" x2="258.2" y2="1965.5" stroke="#111" stroke-width="1"/>
<rect x="257.0" y="1964.2" width="2.6" height="2.6" fill="#111"/>
<rect x="248.79999999999998" y="1961.9" width="6.4" height="6.4" fill="#b3b3b3" stroke="#000" stroke-width="1.3"/>
<rect x="245.5" y="1965.2" width="6.4" height="6.4" fill="#b3b3b3" stroke="#000" stroke-width="1.3"/>
<rect x="242.2" y="1968.5" width="6.4" height="6.4" fill="#b3b3b3" stroke="#000" stroke-width="1.3"/>
<circle cx="235.7" cy="2129.9" r="14.2" fill="#000" fill-opacity="0.22" filter="url(#blur)"/>
<circle cx="234.5" cy="2128.3" r="14.2" fill="url(#gSeq)" stroke="#111" stroke-width="1.3"/>
<line x1="225.0" y1="2131.5" x2="229.5" y2="2131.5" stroke="#111" stroke-width="1"/>
<rect x="223.9" y="2130.2000000000003" width="2.6" height="2.6" fill="#111"/>
<line x1="240.5" y1="2125.3" x2="244.5" y2="2125.3" stroke="#111" stroke-width="1"/>
<rect x="243.3" y="2124.0" width="2.6" height="2.6" fill="#111"/>
<rect x="235.1" y="2121.7000000000003" width="6.4" height="6.4" fill="#b3b3b3" stroke="#000" stroke-width="1.3"/>
<rect x="231.8" y="2125.0" width="6.4" height="6.4" fill="#b3b3b3" stroke="#000" stroke-width="1.3"/>
<rect x="228.5" y="2128.3" width="6.4" height="6.4" fill="#b3b3b3" stroke="#000" stroke-width="1.3"/>
<circle cx="257.4" cy="2128.4" r="5.0" fill="#fff" fill-opacity="0.45" stroke="#111" stroke-width="1.15"/>
<line x1="254.99999999999997" y1="2128.4" x2="259.79999999999995" y2="2128.4" stroke="#111" stroke-width="1.3"/>
<path d="M262.6,2128.4 H266.3" fill="none" stroke="#b2b2b2" stroke-width="1"/>
<path d="M312.2,2013.2 H278.3 Q266.3,2013.2 266.3,2025.2 V2232.2 Q266.3,2244.2 278.3,2244.2 H312.2" fill="none" stroke="#b2b2b2" stroke-width="1"/>
<path d="M266.3,2090.3 H312.2" fill="none" stroke="#b2b2b2" stroke-width="1"/>
<path d="M266.3,2167.2 H312.2" fill="none" stroke="#b2b2b2" stroke-width="1"/>
<text x="306.3" y="2009.8" font-size="12" font-weight="bold" fill="#111" text-anchor="end">∞</text>
<text x="297.90000000000003" y="2009.7" font-size="11.8" fill="#111" stroke="#111" stroke-width="0.2" text-anchor="end">0..</text>
<rect x="312.2" y="2003.2" width="131.60000000000002" height="21" rx="8" ry="8" fill="url(#gElem)" stroke="#a8a8a8" stroke-width="1" filter="url(#shadow)"/>
<text x="320.0" y="2016.6000000000001" font-size="11.5" stroke="#111" stroke-width="0.5" fill="#111" textLength="115.1" lengthAdjust="spacingAndGlyphs">testProcedureMethod</text>
<circle cx="451.7" cy="2013.2" r="5.0" fill="#fff" stroke="#111" stroke-width="1.05"/>
<line x1="449.2" y1="2013.2" x2="454.2" y2="2013.2" stroke="#111" stroke-width="1.1"/>
<line x1="451.7" y1="2010.7" x2="451.7" y2="2015.7" stroke="#111" stroke-width="1.1"/>
<path d="M318.2,2036.2 H325.2 L332.2,2028.7 L339.2,2036.2 H635.4 Q641.4,2036.2 641.4,2042.2 V2062.0 Q641.4,2068.0 635.4,2068.0 H318.2 Q312.2,2068.0 312.2,2062.0 V2042.2 Q312.2,2036.2 318.2,2036.2 Z" fill="url(#gNote)" stroke="#111" stroke-width="1.2"/>
<text x="315.09999999999997" y="2048.5" font-size="10" stroke="#303030" stroke-width="0.32" fill="#303030" textLength="285.3" lengthAdjust="spacingAndGlyphs">A property element that contains a Specification object (or</text>
<text x="315.09999999999997" y="2061.5" font-size="10" stroke="#303030" stroke-width="0.32" fill="#303030" textLength="292.3" lengthAdjust="spacingAndGlyphs">reference to one) detailing the test procedure method used.</text>
<text x="306.3" y="2086.9" font-size="12" font-weight="bold" fill="#111" text-anchor="end">∞</text>
<text x="297.90000000000003" y="2086.8" font-size="11.8" fill="#111" stroke="#111" stroke-width="0.2" text-anchor="end">0..</text>
<rect x="312.2" y="2080.3" width="148.7" height="21" rx="8" ry="8" fill="url(#gElem)" stroke="#a8a8a8" stroke-width="1" filter="url(#shadow)"/>
<text x="320.0" y="2093.7000000000003" font-size="11.5" stroke="#111" stroke-width="0.5" fill="#111" textLength="132.10000000000002" lengthAdjust="spacingAndGlyphs">testProcedureEquipment</text>
<circle cx="469.5" cy="2090.3" r="5.0" fill="#fff" stroke="#111" stroke-width="1.05"/>
<line x1="467.0" y1="2090.3" x2="472.0" y2="2090.3" stroke="#111" stroke-width="1.1"/>
<line x1="469.5" y1="2087.8" x2="469.5" y2="2092.8" stroke="#111" stroke-width="1.1"/>
<path d="M318.2,2113.3 H325.2 L332.2,2105.8 L339.2,2113.3 H652.0 Q658.0,2113.3 658.0,2119.3 V2139.1000000000004 Q658.0,2145.1000000000004 652.0,2145.1000000000004 H318.2 Q312.2,2145.1000000000004 312.2,2139.1000000000004 V2119.3 Q312.2,2113.3 318.2,2113.3 Z" fill="url(#gNote)" stroke="#111" stroke-width="1.2"/>
<text x="315.09999999999997" y="2125.6000000000004" font-size="10" stroke="#303030" stroke-width="0.32" fill="#303030" textLength="311.0" lengthAdjust="spacingAndGlyphs">A property element that supports a value by reference only. The</text>
<text x="315.09999999999997" y="2138.6000000000004" font-size="10" stroke="#303030" stroke-width="0.32" fill="#303030" textLength="235.4" lengthAdjust="spacingAndGlyphs">target value is indicated in the appinfo element.</text>
<text x="306.3" y="2163.7999999999997" font-size="12" font-weight="bold" fill="#111" text-anchor="end">∞</text>
<text x="297.90000000000003" y="2163.7" font-size="11.8" fill="#111" stroke="#111" stroke-width="0.2" text-anchor="end">0..</text>
<rect x="312.2" y="2157.2" width="122.40000000000003" height="21" rx="8" ry="8" fill="url(#gElem)" stroke="#a8a8a8" stroke-width="1" filter="url(#shadow)"/>
<text x="320.0" y="2170.6" font-size="11.5" stroke="#111" stroke-width="0.5" fill="#111" textLength="106.0" lengthAdjust="spacingAndGlyphs">testingEnvironment</text>
<circle cx="442.5" cy="2167.2" r="5.0" fill="#fff" stroke="#111" stroke-width="1.05"/>
<line x1="440.0" y1="2167.2" x2="445.0" y2="2167.2" stroke="#111" stroke-width="1.1"/>
<line x1="442.5" y1="2164.7" x2="442.5" y2="2169.7" stroke="#111" stroke-width="1.1"/>
<path d="M318.2,2190.2 H325.2 L332.2,2182.7 L339.2,2190.2 H625.6 Q631.6,2190.2 631.6,2196.2 V2216.0 Q631.6,2222.0 625.6,2222.0 H318.2 Q312.2,2222.0 312.2,2216.0 V2196.2 Q312.2,2190.2 318.2,2190.2 Z" fill="url(#gNote)" stroke="#111" stroke-width="1.2"/>
<text x="315.09999999999997" y="2202.5" font-size="10" stroke="#303030" stroke-width="0.32" fill="#303030" textLength="284.7" lengthAdjust="spacingAndGlyphs">Environmental conditions during testing. Values derived at</text>
<text x="315.09999999999997" y="2215.5" font-size="10" stroke="#303030" stroke-width="0.32" fill="#303030" textLength="263.9" lengthAdjust="spacingAndGlyphs">different times during the test can be specified with...</text>
<text x="306.3" y="2240.7999999999997" font-size="12" font-weight="bold" fill="#111" text-anchor="end">∞</text>
<text x="297.90000000000003" y="2240.7" font-size="11.8" fill="#111" stroke="#111" stroke-width="0.2" text-anchor="end">0..</text>
<rect x="312.2" y="2234.2" width="115.0" height="21" rx="8" ry="8" fill="url(#gElem)" stroke="#a8a8a8" stroke-width="1" filter="url(#shadow)"/>
<text x="320.0" y="2247.6" font-size="11.5" stroke="#111" stroke-width="0.5" fill="#111" textLength="98.5" lengthAdjust="spacingAndGlyphs">otherTestProperty</text>
<circle cx="435.2" cy="2244.2" r="5.0" fill="#fff" stroke="#111" stroke-width="1.05"/>
<line x1="432.7" y1="2244.2" x2="437.7" y2="2244.2" stroke="#111" stroke-width="1.1"/>
<line x1="435.2" y1="2241.7" x2="435.2" y2="2246.7" stroke="#111" stroke-width="1.1"/>
<circle cx="221.7" cy="2331.9" r="14.2" fill="#000" fill-opacity="0.22" filter="url(#blur)"/>
<circle cx="220.5" cy="2330.3" r="14.2" fill="url(#gSeq)" stroke="#111" stroke-width="1.3"/>
<line x1="211.0" y1="2333.5" x2="215.5" y2="2333.5" stroke="#111" stroke-width="1"/>
<rect x="209.9" y="2332.2000000000003" width="2.6" height="2.6" fill="#111"/>
<line x1="226.5" y1="2327.3" x2="230.5" y2="2327.3" stroke="#111" stroke-width="1"/>
<rect x="229.3" y="2326.0" width="2.6" height="2.6" fill="#111"/>
<rect x="221.1" y="2323.7000000000003" width="6.4" height="6.4" fill="#b3b3b3" stroke="#000" stroke-width="1.3"/>
<rect x="217.8" y="2327.0" width="6.4" height="6.4" fill="#b3b3b3" stroke="#000" stroke-width="1.3"/>
<rect x="214.5" y="2330.3" width="6.4" height="6.4" fill="#b3b3b3" stroke="#000" stroke-width="1.3"/>
<circle cx="243.4" cy="2330.3" r="5.0" fill="#fff" fill-opacity="0.45" stroke="#111" stroke-width="1.15"/>
<line x1="241.0" y1="2330.3" x2="245.8" y2="2330.3" stroke="#111" stroke-width="1.3"/>
<path d="M248.6,2330.3 H252.5" fill="none" stroke="#b2b2b2" stroke-width="1"/>
<path d="M298.4,2285.4 H264.5 Q252.5,2285.4 252.5,2297.4 V2362.9 Q252.5,2374.9 264.5,2374.9 H298.4" fill="none" stroke="#b2b2b2" stroke-width="1"/>
<rect x="298.4" y="2275.4" width="65.80000000000001" height="21" rx="8" ry="8" fill="url(#gElem)" stroke="#a8a8a8" stroke-width="1" filter="url(#shadow)"/>
<text x="306.2" y="2288.8" font-size="11.5" stroke="#111" stroke-width="0.5" fill="#111" textLength="50.3" lengthAdjust="spacingAndGlyphs">testEvent</text>
<circle cx="372.2" cy="2285.4" r="5.0" fill="#fff" stroke="#111" stroke-width="1.05"/>
<line x1="369.7" y1="2285.4" x2="374.7" y2="2285.4" stroke="#111" stroke-width="1.1"/>
<line x1="372.2" y1="2282.9" x2="372.2" y2="2287.9" stroke="#111" stroke-width="1.1"/>
<path d="M304.4,2308.4 H311.4 L318.4,2300.9 L325.4,2308.4 H555.3 Q561.3,2308.4 561.3,2314.4 V2347.2000000000003 Q561.3,2353.2000000000003 555.3,2353.2000000000003 H304.4 Q298.4,2353.2000000000003 298.4,2347.2000000000003 V2314.4 Q298.4,2308.4 304.4,2308.4 Z" fill="url(#gNote)" stroke="#111" stroke-width="1.2"/>
<text x="301.29999999999995" y="2320.7000000000003" font-size="10" stroke="#303030" stroke-width="0.32" fill="#303030" textLength="249.4" lengthAdjust="spacingAndGlyphs">An property that contains an object that records an</text>
<text x="301.29999999999995" y="2333.7000000000003" font-size="10" stroke="#303030" stroke-width="0.32" fill="#303030" textLength="251.4" lengthAdjust="spacingAndGlyphs">event observed during a laboratory test. This object</text>
<text x="301.29999999999995" y="2346.7000000000003" font-size="10" stroke="#303030" stroke-width="0.32" fill="#303030" textLength="71.5" lengthAdjust="spacingAndGlyphs">is a concrete...</text>
<text x="292.5" y="2371.5" font-size="12" font-weight="bold" fill="#111" text-anchor="end">∞</text>
<text x="284.1" y="2371.4" font-size="11.8" fill="#111" stroke="#111" stroke-width="0.2" text-anchor="end">0..</text>
<rect x="298.4" y="2364.9" width="67.0" height="21" rx="8" ry="8" fill="url(#gElem)" stroke="#a8a8a8" stroke-width="1" filter="url(#shadow)"/>
<text x="306.2" y="2378.3" font-size="11.5" stroke="#111" stroke-width="0.5" fill="#111" textLength="51.5" lengthAdjust="spacingAndGlyphs">specimen</text>
<circle cx="374.6" cy="2374.9" r="5.0" fill="#fff" stroke="#111" stroke-width="1.05"/>
<line x1="372.1" y1="2374.9" x2="377.1" y2="2374.9" stroke="#111" stroke-width="1.1"/>
<line x1="374.6" y1="2372.4" x2="374.6" y2="2377.4" stroke="#111" stroke-width="1.1"/>
<path d="M304.4,2397.9 H311.4 L318.4,2390.4 L325.4,2397.9 H557.7 Q563.7,2397.9 563.7,2403.9 V2436.7000000000003 Q563.7,2442.7000000000003 557.7,2442.7000000000003 H304.4 Q298.4,2442.7000000000003 298.4,2436.7000000000003 V2403.9 Q298.4,2397.9 304.4,2397.9 Z" fill="url(#gNote)" stroke="#111" stroke-width="1.2"/>
<text x="301.29999999999995" y="2410.2000000000003" font-size="10" stroke="#303030" stroke-width="0.32" fill="#303030" textLength="211.1" lengthAdjust="spacingAndGlyphs">A property that contains a specialization of</text>
<text x="301.29999999999995" y="2423.2000000000003" font-size="10" stroke="#303030" stroke-width="0.32" fill="#303030" textLength="248.1" lengthAdjust="spacingAndGlyphs">AbstractSpecimen that describes the properties for</text>
<text x="301.29999999999995" y="2436.2000000000003" font-size="10" stroke="#303030" stroke-width="0.32" fill="#303030" textLength="121.8" lengthAdjust="spacingAndGlyphs">a specimen used in the...</text>
<circle cx="207.7" cy="2537.9" r="14.2" fill="#000" fill-opacity="0.22" filter="url(#blur)"/>
<circle cx="206.5" cy="2536.3" r="14.2" fill="url(#gSeq)" stroke="#111" stroke-width="1.3"/>
<line x1="197.0" y1="2539.5" x2="201.5" y2="2539.5" stroke="#111" stroke-width="1"/>
<rect x="195.9" y="2538.2000000000003" width="2.6" height="2.6" fill="#111"/>
<line x1="212.5" y1="2533.3" x2="216.5" y2="2533.3" stroke="#111" stroke-width="1"/>
<rect x="215.3" y="2532.0" width="2.6" height="2.6" fill="#111"/>
<rect x="207.1" y="2529.7000000000003" width="6.4" height="6.4" fill="#b3b3b3" stroke="#000" stroke-width="1.3"/>
<rect x="203.8" y="2533.0" width="6.4" height="6.4" fill="#b3b3b3" stroke="#000" stroke-width="1.3"/>
<rect x="200.5" y="2536.3" width="6.4" height="6.4" fill="#b3b3b3" stroke="#000" stroke-width="1.3"/>
<circle cx="229.4" cy="2536.4" r="5.0" fill="#fff" fill-opacity="0.45" stroke="#111" stroke-width="1.15"/>
<line x1="227.0" y1="2536.4" x2="231.8" y2="2536.4" stroke="#111" stroke-width="1.3"/>
<path d="M234.6,2536.4 H238.3" fill="none" stroke="#b2b2b2" stroke-width="1"/>
<path d="M263.4,2472.4 H250.3 Q238.3,2472.4 238.3,2484.4 V2588.5 Q238.3,2600.5 250.3,2600.5 H263.4" fill="none" stroke="#b2b2b2" stroke-width="1"/>
<path d="M238.3,2536.5 H263.4" fill="none" stroke="#b2b2b2" stroke-width="1"/>
<rect x="263.4" y="2462.4" width="88.70000000000005" height="21" rx="8" ry="8" fill="url(#gElem)" stroke="#a8a8a8" stroke-width="1" filter="url(#shadow)"/>
<text x="271.2" y="2475.8" font-size="11.5" stroke="#111" stroke-width="0.5" fill="#111" textLength="71.1" lengthAdjust="spacingAndGlyphs">waterContent</text>
<circle cx="360.2" cy="2472.4" r="5.0" fill="#fff" stroke="#111" stroke-width="1.05"/>
<line x1="357.7" y1="2472.4" x2="362.7" y2="2472.4" stroke="#111" stroke-width="1.1"/>
<line x1="360.2" y1="2469.9" x2="360.2" y2="2474.9" stroke="#111" stroke-width="1.1"/>
<path d="M269.4,2495.4 H276.4 L283.4,2487.9 L290.4,2495.4 H411.5 Q417.5,2495.4 417.5,2501.4 V2508.2000000000003 Q417.5,2514.2000000000003 411.5,2514.2000000000003 H269.4 Q263.4,2514.2000000000003 263.4,2508.2000000000003 V2501.4 Q263.4,2495.4 269.4,2495.4 Z" fill="url(#gNote)" stroke="#111" stroke-width="1.2"/>
<text x="266.29999999999995" y="2507.7000000000003" font-size="10" stroke="#303030" stroke-width="0.32" fill="#303030" textLength="148.0" lengthAdjust="spacingAndGlyphs">Moisture content of specimen.</text>
<rect x="263.4" y="2526.5" width="107.60000000000002" height="21" rx="8" ry="8" fill="url(#gElem)" stroke="#a8a8a8" stroke-width="1" filter="url(#shadow)"/>
<text x="271.2" y="2539.9" font-size="11.5" stroke="#111" stroke-width="0.5" fill="#111" textLength="90.7" lengthAdjust="spacingAndGlyphs">initialBulkDensity</text>
<circle cx="379.2" cy="2536.5" r="5.0" fill="#fff" stroke="#111" stroke-width="1.05"/>
<line x1="376.7" y1="2536.5" x2="381.7" y2="2536.5" stroke="#111" stroke-width="1.1"/>
<line x1="379.2" y1="2534.0" x2="379.2" y2="2539.0" stroke="#111" stroke-width="1.1"/>
<path d="M269.4,2559.5 H276.4 L283.4,2552.0 L290.4,2559.5 H362.3 Q368.3,2559.5 368.3,2565.5 V2572.3 Q368.3,2578.3 362.3,2578.3 H269.4 Q263.4,2578.3 263.4,2572.3 V2565.5 Q263.4,2559.5 269.4,2559.5 Z" fill="url(#gNote)" stroke="#111" stroke-width="1.2"/>
<text x="266.29999999999995" y="2571.8" font-size="10" stroke="#303030" stroke-width="0.32" fill="#303030" textLength="93.0" lengthAdjust="spacingAndGlyphs">Initial bulk density.</text>
<rect x="263.4" y="2590.5" width="104.90000000000003" height="21" rx="8" ry="8" fill="url(#gElem)" stroke="#a8a8a8" stroke-width="1" filter="url(#shadow)"/>
<text x="271.2" y="2603.9" font-size="11.5" stroke="#111" stroke-width="0.5" fill="#111" textLength="87.6" lengthAdjust="spacingAndGlyphs">initialDryDensity</text>
<circle cx="376.4" cy="2600.5" r="5.0" fill="#fff" stroke="#111" stroke-width="1.05"/>
<line x1="373.9" y1="2600.5" x2="378.9" y2="2600.5" stroke="#111" stroke-width="1.1"/>
<line x1="376.4" y1="2598.0" x2="376.4" y2="2603.0" stroke="#111" stroke-width="1.1"/>
<path d="M269.4,2623.5 H276.4 L283.4,2616.0 L290.4,2623.5 H359.0 Q365.0,2623.5 365.0,2629.5 V2636.3 Q365.0,2642.3 359.0,2642.3 H269.4 Q263.4,2642.3 263.4,2636.3 V2629.5 Q263.4,2623.5 269.4,2623.5 Z" fill="url(#gNote)" stroke="#111" stroke-width="1.2"/>
<text x="266.29999999999995" y="2635.8" font-size="10" stroke="#303030" stroke-width="0.32" fill="#303030" textLength="86.9" lengthAdjust="spacingAndGlyphs">Initial dry density.</text>
<path d="M262,532.5 H178.4 Q167.4,532.5 167.4,543.5 V2525.3 Q167.4,2536.3 178.4,2536.3 H192.4" fill="none" stroke="#4b4b4b" stroke-width="2.5"/>
<path d="M167.4,971.4 H262" fill="none" stroke="#4b4b4b" stroke-width="2.0"/>
<path d="M167.4,1089.4 H262.2" fill="none" stroke="#4b4b4b" stroke-width="2.0"/>
<path d="M167.4,1286.7 H247.8" fill="none" stroke="#4b4b4b" stroke-width="2.0"/>
<path d="M167.4,1623.2 H248.3" fill="none" stroke="#4b4b4b" stroke-width="2.0"/>
<path d="M167.4,1968.5 H233.9" fill="none" stroke="#4b4b4b" stroke-width="2.0"/>
<path d="M167.4,2128.3 H220.3" fill="none" stroke="#4b4b4b" stroke-width="2.0"/>
<path d="M167.4,2330.3 H206.3" fill="none" stroke="#4b4b4b" stroke-width="2.0"/>
<path d="M143.6,1845.4 H167.4" fill="none" stroke="#4b4b4b" stroke-width="2.5"/>
<rect x="0.9" y="1834.3" width="128.4" height="22" fill="url(#gTypeEl)" stroke="#1a1a1a" stroke-width="1.2" filter="url(#shadow)"/>
<rect x="10.799999999999999" y="1852.2" width="11.8" height="1.2" fill="#000" fill-opacity="0.18"/>
<rect x="9.799999999999999" y="1840.0" width="11.8" height="11.8" fill="url(#gPurple)" stroke="#8b6fcf" stroke-width="1.2"/>
<text x="31.9" y="1849.2" font-size="12.5" stroke="#111" stroke-width="0.5" fill="#111" textLength="88.7" lengthAdjust="spacingAndGlyphs">SuctionTestType</text>
<circle cx="138.5" cy="1845.3" r="5" fill="#fff"/>
<circle cx="138.5" cy="1845.3" r="5.0" fill="#fff" fill-opacity="0.45" stroke="#111" stroke-width="1.15"/>
<line x1="136.1" y1="1845.3" x2="140.9" y2="1845.3" stroke="#111" stroke-width="1.3"/>
<path d="M7,1869 H14 L21,1861.5 L28,1869 H155 Q161,1869 161,1875 V1882.6 Q161,1888.6 155,1888.6 H7 Q1,1888.6 1,1882.6 V1875 Q1,1869 7,1869 Z" fill="url(#gNoteType)" stroke="#111" stroke-width="1.2"/>
<text x="3.9" y="1881.3" font-size="10" stroke="#303030" stroke-width="0.32" fill="#303030" textLength="123.6" lengthAdjust="spacingAndGlyphs">Base type for SuctionTest</text>
</svg></body></html>
